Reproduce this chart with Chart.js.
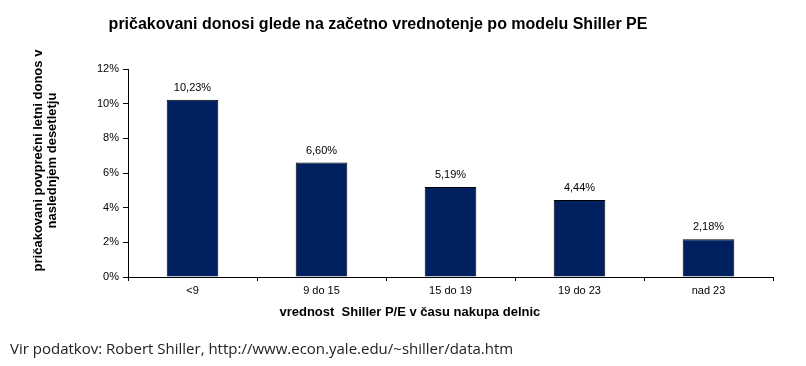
<!DOCTYPE html>
<html>
<head>
<meta charset="utf-8">
<script src="https://cdn.jsdelivr.net/npm/chart.js@4"></script>
<style>
  body { margin: 0; background: #fff; }
  #wrap { position: relative; width: 806px; height: 366px; }
  #source { position: absolute; left: 10px; top: 338px; font: 15px "Open Sans", sans-serif; color: #222; white-space: nowrap; }
</style>
</head>
<body>
<div id="wrap">
  <canvas id="shillerChart" width="806" height="366"></canvas>
  <div id="source">Vir podatkov: Robert Shiller, http://www.econ.yale.edu/~shiller/data.htm</div>
</div>
<script>
// kategorije in vrednosti
const categories = ['<9', '9 do 15', '15 do 19', '19 do 23', 'nad 23'];
const returns = [10.23, 6.60, 5.19, 4.44, 2.18];
const yTicks = [0, 2, 4, 6, 8, 10, 12];

const chartTitle = 'pričakovani donosi glede na začetno vrednotenje po modelu Shiller PE';
const yTitle = ['pričakovani povprečni letni donos v', 'naslednjem desetletju'];
const xTitle = 'vrednost  Shiller P/E v času nakupa delnic';

const arial = '"Liberation Sans", Arial, sans-serif';

// naslov, oznake nad stolpci in naslova osi
const labelsPlugin = {
    id: 'labelsPlugin',
    afterDatasetsDraw(chart) {
        const ctx = chart.ctx;
        const meta = chart.getDatasetMeta(0);
        ctx.save();
        ctx.fillStyle = '#000';
        ctx.textAlign = 'center';
        ctx.textBaseline = 'middle';

        ctx.font = 'bold 16px ' + arial;
        ctx.fillText(chartTitle, 378, 25);

        ctx.font = '11px ' + arial;
        meta.data.forEach((bar, i) => {
            ctx.fillText(returns[i].toFixed(2).replace('.', ',') + '%', bar.x, bar.y - 12);
        });

        const area = chart.chartArea;
        ctx.font = 'bold 13px ' + arial;
        // naslov osi x
        ctx.fillText(xTitle, area.left + (area.right - area.left) * 0.437, area.bottom + 35);
        // naslov osi y
        ctx.translate(44, area.top + (area.bottom - area.top) * 0.44);
        ctx.rotate(-Math.PI / 2);
        ctx.fillText(yTitle[0], 0, -6);
        ctx.fillText(yTitle[1], 0, 8);
        ctx.restore();
    }
};

new Chart(document.getElementById('shillerChart'), {
    type: 'bar',
    data: {
        labels: categories,
        datasets: [{
            data: returns,
            backgroundColor: '#00205f',
            borderColor: '#000',
            borderWidth: 1,
            barPercentage: 0.4,
            categoryPercentage: 1
        }]
    },
    options: {
        responsive: false,
        animation: false,
        layout: {
            padding: { left: 0, right: 33, top: 69, bottom: 0 }
        },
        scales: {
            x: {
                afterFit: (scale) => { scale.height = 89; },
                border: { color: '#000', width: 1 },
                grid: { drawOnChartArea: false, tickLength: 4, color: '#000', offset: true },
                ticks: { color: '#000', font: { family: arial, size: 11 }, padding: 3 }
            },
            y: {
                min: 0,
                max: 12,
                afterFit: (scale) => { scale.width = 128; },
                afterBuildTicks: (scale) => { scale.ticks = yTicks.map(v => ({ value: v })); },
                border: { color: '#000', width: 1 },
                grid: { drawOnChartArea: false, tickLength: 5, color: '#000' },
                ticks: {
                    color: '#000',
                    font: { family: arial, size: 11 },
                    padding: 4,
                    callback: (v) => v + '%'
                }
            }
        },
        plugins: {
            legend: { display: false },
            tooltip: { enabled: false },
            title: { display: false }
        }
    },
    plugins: [labelsPlugin]
});
</script>
</body>
</html>
